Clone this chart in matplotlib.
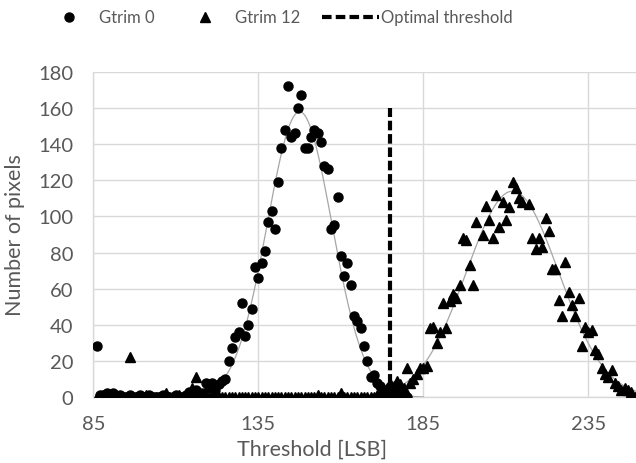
import numpy as np
import matplotlib
matplotlib.use("Agg")
import matplotlib.pyplot as plt
from matplotlib.lines import Line2D

# ---- measured pixel counts per threshold ----
gtrim0_thr = [86, 87, 88, 89, 90, 91, 92, 93, 94, 95, 96, 97, 98, 99, 100,
              101, 102, 103, 104, 105, 106, 107, 108, 109, 110, 111, 112, 113,
              114, 115, 116, 117, 118, 119, 120, 121, 122, 123, 124, 125, 126,
              127, 128, 129, 130, 131, 132, 133, 134, 135, 136, 137, 138, 139,
              140, 141, 142, 143, 144, 145, 146, 147, 148, 149, 150, 151, 152,
              153, 154, 155, 156, 157, 158, 159, 160, 161, 162, 163, 164, 165,
              166, 167, 168, 169, 170, 171, 172, 173, 174, 175, 176, 177, 178,
              179, 180]
gtrim0_cnt = [28, 1, 1, 2, 1, 2, 0, 1, 0, 0, 1, 0, 0, 1, 0,
              0, 1, 0, 0, 0, 1, 0, 0, 0, 1, 0, 0, 1,
              3, 2, 4, 1, 2, 8, 5, 8, 4, 7, 9, 10, 20,
              27, 33, 36, 52, 34, 40, 49, 72, 66, 74, 81, 97, 103,
              93, 119, 138, 148, 172, 144, 146, 160, 167, 138, 138, 144, 148,
              146, 141, 128, 126, 93, 95, 111, 78, 67, 74, 62, 45, 42,
              38, 28, 20, 11, 12, 8, 6, 4, 2, 5, 1, 3, 0,
              1, 0]

gtrim12_thr = [86, 87, 88, 89, 90, 91, 92, 93, 94, 95, 96, 97, 98, 99, 100,
               101, 102, 103, 104, 105, 106, 107, 108, 109, 110, 111, 112, 113,
               114, 115, 116, 117, 118, 119, 120, 121, 122, 123, 124, 125, 126,
               127, 128, 129, 130, 131, 132, 133, 134, 135, 136, 137, 138, 139,
               140, 141, 142, 143, 144, 145, 146, 147, 148, 149, 150, 151, 152,
               153, 154, 155, 156, 157, 158, 159, 160, 161, 162, 163, 164, 165,
               166, 167, 168, 169, 170, 171, 172, 173, 174, 175, 176, 177, 178,
               179, 180, 181, 182, 183, 184, 185, 186, 187, 188, 189, 190, 191,
               192, 193, 194, 195, 196, 197, 198, 199, 200, 201, 203, 204, 205,
               206, 207, 208, 209, 210, 211, 212, 213, 214, 215, 217, 218, 219,
               220, 221, 222, 223, 224, 225, 226, 227, 228, 229, 230, 231, 232,
               233, 234, 235, 236, 237, 238, 239, 240, 241, 242, 243, 244, 245,
               246, 247, 248, 249]
gtrim12_cnt = [0, 0, 0, 0, 0, 0, 1, 0, 0, 0, 22, 0, 0, 0, 0,
               1, 0, 0, 0, 0, 0, 2, 0, 0, 0, 1, 0, 0,
               2, 5, 11, 1, 0, 0, 0, 0, 0, 0, 0, 0, 0,
               0, 0, 0, 0, 0, 0, 0, 0, 0, 0, 0, 0, 0,
               0, 0, 0, 0, 0, 0, 0, 0, 0, 0, 0, 0, 0,
               1, 0, 0, 0, 0, 0, 0, 2, 0, 0, 0, 0, 0,
               0, 0, 0, 0, 0, 1, 2, 3, 5, 8, 6, 9, 7,
               5, 16, 8, 10, 13, 16, 16, 17, 38, 39, 30, 36, 52,
               38, 53, 57, 55, 62, 88, 87, 73, 62, 97, 90, 106, 98,
               88, 112, 94, 108, 98, 105, 119, 116, 110, 108, 107, 88, 82,
               88, 83, 99, 92, 71, 71, 54, 45, 75, 58, 51, 45, 55,
               28, 39, 36, 37, 26, 24, 16, 13, 11, 15, 8, 6, 4,
               5, 4, 3, 0]

# Gaussian fit parameters (amplitude, mean, sigma)
fit0 = (158.0, 147.5, 9.8)
fit12 = (114.0, 212.0, 14.0)

optimal_threshold = 175
optimal_height = 160

x_ticks = [85, 135, 185, 235]
y_ticks = [0, 20, 40, 60, 80, 100, 120, 140, 160, 180]

legend_labels = ["Gtrim 0", "Gtrim 12", "Optimal threshold"]
x_title = "Threshold [LSB]"
y_title = "Number of pixels"

# ---- styling ----
plt.rcParams["font.family"] = ["Lato", "DejaVu Sans"]
text_gray = "#595959"
grid_gray = "#d9d9d9"
fit_gray = "#a6a6a6"

fig = plt.figure(figsize=(6.36, 4.64), dpi=100)
ax = fig.add_axes([0.1467, 0.1422, 0.8548, 0.7005])

ax.set_xlim(85, 249.7)
ax.set_ylim(0, 180)
ax.set_xticks(x_ticks)
ax.set_yticks(y_ticks)
ax.grid(True, color=grid_gray, linewidth=1.0)
ax.set_axisbelow(True)
for side in ("top", "right"):
    ax.spines[side].set_visible(False)
for side in ("left", "bottom"):
    ax.spines[side].set_color(grid_gray)
    ax.spines[side].set_linewidth(1.0)
ax.tick_params(length=0, labelsize=14.5, labelcolor=text_gray)
ax.tick_params(axis="y", pad=14.5)
ax.tick_params(axis="x", pad=13)

# fitted curves
xs0 = np.linspace(110, 185, 400)
a, m, s = fit0
ax.plot(xs0, a * np.exp(-0.5 * ((xs0 - m) / s) ** 2), color=fit_gray, lw=0.9, zorder=2)
xs12 = np.linspace(175, 250, 400)
a, m, s = fit12
ax.plot(xs12, a * np.exp(-0.5 * ((xs12 - m) / s) ** 2), color=fit_gray, lw=0.9, zorder=2)

# measurements
ax.plot(gtrim0_thr, gtrim0_cnt, ls="none", marker="o", ms=6.5, color="black", zorder=3)
ax.plot(gtrim12_thr, gtrim12_cnt, ls="none", marker="^", ms=7, color="black", zorder=3)

# optimal threshold marker line
ax.plot([optimal_threshold, optimal_threshold], [0, optimal_height], color="black",
        lw=3.0, dashes=(2.3, 0.9), zorder=4)

ax.set_xlabel(x_title, fontsize=15.5, color=text_gray)
ax.xaxis.set_label_coords(0.402, -0.128)
ax.set_ylabel(y_title, fontsize=15.5, color=text_gray)
ax.yaxis.set_label_coords(-0.126, 0.5)

handles = [
    Line2D([], [], ls="none", marker="o", ms=6.5, color="black"),
    Line2D([], [], ls="none", marker="^", ms=7, color="black"),
    Line2D([], [], color="black", lw=3.0, dashes=(2.3, 1.0)),
]
leg = fig.legend(handles, legend_labels, loc="upper center", ncol=3, frameon=False,
                 bbox_to_anchor=(0.435, 1.01), fontsize=12, handlelength=3.4,
                 handletextpad=0.12, columnspacing=1.3, labelcolor=text_gray)

fig.savefig("out.png", dpi=100)
